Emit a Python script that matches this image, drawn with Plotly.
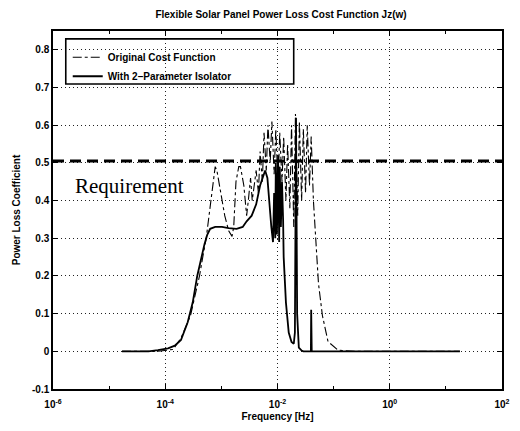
import numpy as np
import plotly.graph_objects as go

# ---------------- data ----------------
# log10 of frequency [Hz] and power-loss coefficient
orig_logf = [-4.77, -4.13, -3.86, -3.72, -3.55, -3.39, -3.32, -3.27, -3.22, -3.16,
             -3.11, -3.08, -3.02, -2.94, -2.87, -2.81, -2.78, -2.74, -2.69, -2.66,
             -2.60, -2.55, -2.52, -2.48, -2.45, -2.41, -2.38, -2.34, -2.31, -2.27,
             -2.24, -2.20, -2.17, -2.13, -2.10, -2.06, -2.03, -1.99, -1.96, -1.92,
             -1.89, -1.85, -1.82, -1.78, -1.75, -1.71, -1.68, -1.64, -1.61, -1.57,
             -1.54, -1.50, -1.47, -1.43, -1.40, -1.36, -1.33, -1.27, -1.20, -1.10,
             -0.92, -0.63, 1.25]
orig_val = [0.0, 0.0, 0.005, 0.035, 0.095, 0.20, 0.26, 0.30, 0.36, 0.44,
            0.49, 0.48, 0.43, 0.36, 0.32, 0.305, 0.33, 0.45, 0.49, 0.49,
            0.44, 0.36, 0.40, 0.46, 0.40, 0.44, 0.48, 0.42, 0.53, 0.45,
            0.58, 0.48, 0.60, 0.50, 0.61, 0.47, 0.59, 0.44, 0.58, 0.45,
            0.57, 0.40, 0.55, 0.38, 0.60, 0.33, 0.63, 0.36, 0.61, 0.40,
            0.59, 0.42, 0.60, 0.44, 0.57, 0.40, 0.33, 0.18, 0.095, 0.026,
            0.003, 0.0, 0.0]

iso_logf = [-4.77, -4.30, -4.13, -3.95, -3.83, -3.72, -3.60, -3.51, -3.43, -3.36,
            -3.30, -3.25, -3.20, -3.11, -2.99, -2.87, -2.73, -2.62, -2.55, -2.46,
            -2.38, -2.31, -2.25, -2.22, -2.18, -2.15, -2.11, -2.08, -2.06, -2.04,
            -2.03, -2.01, -1.99, -1.97, -1.96, -1.94, -1.92, -1.90, -1.89, -1.85,
            -1.80, -1.75, -1.71, -1.69, -1.67, -1.65, -1.62, -1.57, -1.54, -1.405,
            -1.40, -1.39, 1.25]
iso_val = [0.0, 0.0, 0.003, 0.008, 0.015, 0.03, 0.077, 0.13, 0.20, 0.25,
           0.285, 0.31, 0.325, 0.33, 0.33, 0.327, 0.325, 0.33, 0.345, 0.36,
           0.39, 0.44, 0.47, 0.48, 0.46, 0.40, 0.33, 0.29, 0.42, 0.30,
           0.50, 0.31, 0.52, 0.29, 0.49, 0.33, 0.45, 0.35, 0.25, 0.13,
           0.05, 0.025, 0.02, 0.05, 0.62, 0.10, 0.01, 0.002, 0.0, 0.0,
           0.11, 0.0, 0.0]

requirement_level = 0.505
x_limits = [1e-6, 1e2]
x_tick_vals = [1e-6, 1e-4, 1e-2, 1e0, 1e2]
x_tick_text = ["<b>10<sup>-6</sup></b>", "<b>10<sup>-4</sup></b>", "<b>10<sup>-2</sup></b>",
               "<b>10<sup>0</sup></b>", "<b>10<sup>2</sup></b>"]
x_minor_vals = [1e-5, 1e-3, 1e-1, 1e1]
y_tick_vals = [-0.1, 0, 0.1, 0.2, 0.3, 0.4, 0.5, 0.6, 0.7, 0.8]
y_tick_text = ["<b>-0.1</b>", "<b>0</b>", "<b>0.1</b>", "<b>0.2</b>", "<b>0.3</b>",
               "<b>0.4</b>", "<b>0.5</b>", "<b>0.6</b>", "<b>0.7</b>", "<b>0.8</b>"]

orig_f = 10 ** np.array(orig_logf)
iso_f = 10 ** np.array(iso_logf)

FONT = "Liberation Sans, Arial, sans-serif"

fig = go.Figure()
fig.add_trace(go.Scatter(x=x_limits, y=[requirement_level] * 2, mode="lines",
                         line=dict(color="black", width=3.2, dash="11px,6px"),
                         showlegend=False, hoverinfo="skip"))
fig.add_trace(go.Scatter(x=orig_f, y=orig_val, mode="lines",
                         name="<b>Original Cost Function</b>",
                         line=dict(color="black", width=1.1, dash="dashdot")))
fig.add_trace(go.Scatter(x=iso_f, y=iso_val, mode="lines",
                         name="<b>With 2\u2013Parameter Isolator</b>",
                         line=dict(color="black", width=1.8)))

fig.add_annotation(x=np.log10(2.3e-6), y=0.44, xref="x", yref="y",
                   text="Requirement", showarrow=False, xanchor="left",
                   font=dict(family="Liberation Serif, Times New Roman, serif",
                             size=21, color="black"))

# legend box
fig.add_shape(type="rect", xref="paper", yref="paper",
              x0=(66 - 53) / 457, x1=(298 - 53) / 457,
              y0=(396 - 85) / 365, y1=(396 - 39) / 365,
              line=dict(color="black", width=1.6), fillcolor="rgba(0,0,0,0)")

GRID_DASH = "1px,3px"

fig.update_layout(
    width=520, height=431,
    margin=dict(l=53, r=10, t=31, b=35),
    paper_bgcolor="white", plot_bgcolor="white",
    font=dict(family=FONT, size=10, color="black"),
    title=dict(text="<b>Flexible Solar Panel Power Loss Cost Function Jz(w)</b>",
               x=(281 / 520), xanchor="center", y=1 - 14 / 431, yanchor="middle",
               font=dict(size=10, family=FONT)),
    showlegend=True,
    legend=dict(x=(68 - 53) / 457, y=(396 - 43) / 365, xanchor="left", yanchor="top",
                bgcolor="rgba(0,0,0,0)", borderwidth=0,
                font=dict(size=10, family=FONT), itemwidth=30,
                tracegroupgap=0),
    xaxis=dict(type="log", range=[-6, 2], tickvals=x_tick_vals, ticktext=x_tick_text,
               ticks="inside", ticklen=5, tickcolor="black", ticklabelstandoff=5,
               showline=True, linecolor="black", linewidth=1.5, mirror="ticks",
               showgrid=True, gridcolor="#222222", griddash=GRID_DASH, gridwidth=1,
               zeroline=False,
               minor=dict(tickvals=x_minor_vals, ticks="inside", ticklen=3,
                          tickcolor="black", showgrid=False),
               title=dict(text="<b>Frequency [Hz]</b>", standoff=4,
                          font=dict(size=10, family=FONT)),
               tickfont=dict(size=10, family=FONT)),
    yaxis=dict(range=[-0.1, 0.85], tickvals=y_tick_vals, ticktext=y_tick_text,
               ticks="inside", ticklen=5, tickcolor="black",
               showline=True, linecolor="black", linewidth=1.5, mirror="ticks",
               showgrid=True, gridcolor="#222222", griddash=GRID_DASH, gridwidth=1,
               zeroline=False,
               title=dict(text="<b>Power Loss Coefficient</b>", standoff=10,
                          font=dict(size=10, family=FONT)),
               tickfont=dict(size=10, family=FONT)),
)

fig.write_html("out.html")
